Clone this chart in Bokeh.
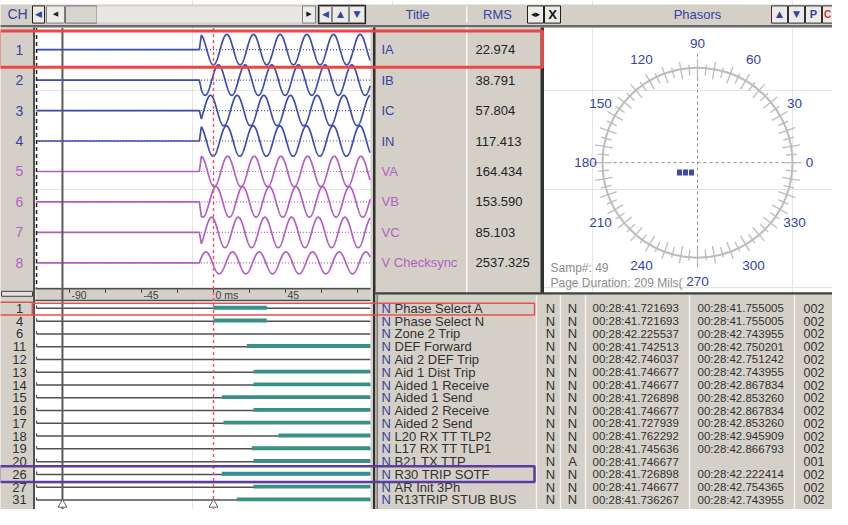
import numpy as np
from bokeh.plotting import figure
from bokeh.models import Range1d
from bokeh.core.properties import value
from bokeh.embed import file_html
from bokeh.resources import INLINE

# ------------------------------------------------------------------ data
analog_ch = ["1", "2", "3", "4", "5", "6", "7", "8"]
analog_names = ["IA", "IB", "IC", "IN", "VA", "VB", "VC", "V Checksync"]
analog_rms = ["22.974", "38.791", "57.804", "117.413", "164.434", "153.590", "85.103", "2537.325"]
analog_kind = ["I", "I", "I", "I", "V", "V", "V", "V"]
analog_amp = [0.5, 0.5, 0.5, 0.5, 0.5, 0.5, 0.5, 0.36]          # display amplitude (row units)
analog_peak_ms = [8.3, 3.1, -1.9, 8.1, 8.8, 1.6, -1.2, 11.9]     # time of a positive peak
fault_ms = -7.6
freq_hz = 60.0
view_start_ms = -111.0
view_end_ms = 98.0
cursor_ms = -94.4

time_tick_ms = [-90, -67.5, -45, -22.5, 0, 22.5, 45, 67.5, 90]
time_label_ms = [-90, -45, 0, 45]
time_labels = ["-90", "-45", "0 ms", "45"]

dig_ch = ["1", "4", "6", "11", "12", "13", "14", "15", "16", "17", "18", "19", "20", "26", "27", "31"]
dig_names = ["Phase Select A", "Phase Select N", "Zone 2 Trip", "DEF Forward", "Aid 2 DEF Trip",
             "Aid 1 Dist Trip", "Aided 1 Receive", "Aided 1 Send", "Aided 2 Receive", "Aided 2 Send",
             "L20 RX TT TLP2", "L17 RX TT TLP1", "B21 TX TTP", "R30 TRIP SOTF", "AR Init 3Ph",
             "R13TRIP STUB BUS"]
dig_s1 = ["N"] * 16
dig_s2 = ["N", "N", "N", "N", "N", "N", "N", "N", "N", "N", "N", "N", "A", "N", "N", "N"]
dig_on = ["00:28:41.721693", "00:28:41.721693", "00:28:42.225537", "00:28:41.742513",
          "00:28:42.746037", "00:28:41.746677", "00:28:41.746677", "00:28:41.726898",
          "00:28:41.746677", "00:28:41.727939", "00:28:41.762292", "00:28:41.745636",
          "00:28:41.746677", "00:28:41.726898", "00:28:41.746677", "00:28:41.736267"]
dig_off = ["00:28:41.755005", "00:28:41.755005", "00:28:42.743955", "00:28:42.750201",
           "00:28:42.751242", "00:28:42.743955", "00:28:42.867834", "00:28:42.853260",
           "00:28:42.867834", "00:28:42.853260", "00:28:42.945909", "00:28:42.866793",
           "", "00:28:42.222414", "00:28:42.754365", "00:28:42.743955"]
dig_cnt = ["002"] * 12 + ["001"] + ["002"] * 3
trigger_time = "00:28:41.721693"

phasor_label_deg = [0, 30, 60, 90, 120, 150, 180, 210, 240, 270, 300, 330]
phasor_tick_step = 5
samp_text = "Samp#: 49"
dur_text = "Page Duration: 209 Mils("

# ------------------------------------------------------------------ style
GRAY = "#d4d0c8"
BLUE_T = "#3443a4"
BLUE_W = "#3b4cb0"
PURPLE = "#b25fc2"
TEAL = "#3a8f88"
F = "Liberation Sans"
A = "DejaVu Sans"

X0, X1, Y0, Y1 = 8, 840, 8, 526
p = figure(width=832, height=509, x_range=Range1d(X0, X1), y_range=Range1d(Y1, Y0),
           output_backend="svg", toolbar_location=None, min_border=0,
           x_axis_location=None, y_axis_location=None,
           background_fill_color="white", border_fill_color="white")
p.outline_line_color = None
T0, PXMS = 221.0, 1.6
WROW0, WSTEP = 58.0, 31.0
DROW0, DSTEP = 321.3, 13.0
p.extra_x_ranges = {"t": Range1d((X0 - T0) / PXMS, (X1 - T0) / PXMS)}
p.extra_y_ranges = {"w": Range1d((Y1 - WROW0) / WSTEP, (Y0 - WROW0) / WSTEP),
                    "d": Range1d((Y1 - DROW0) / DSTEP, (Y0 - DROW0) / DSTEP)}


def box(l, r, t, b, fill=None, line=None, lw=1.0):
    p.quad(left=[l], right=[r], top=[t], bottom=[b], fill_color=fill,
           line_color=line, line_width=lw)


def txt(x, y, s, color, size="13px", align="left", font=F, style="normal",
        xr="default", yr="default", xoff=0):
    p.text(x=x, y=y, text=s, text_color=color, text_font=value(font),
           text_font_size=size, text_align=align, text_baseline="middle",
           text_font_style=style, x_range_name=xr, y_range_name=yr, x_offset=xoff)


# ------------------------------------------------------------------ panels
box(0, 848, 12, 33, GRAY)
box(0, 848, 33, 35.5, "#6a6a6a")
box(7, 41, 35.5, 530, GRAY)
box(40.5, 42.5, 35.5, 530, "#505050")
box(378, 551, 35.5, 306, GRAY)
box(378, 383, 306, 530, GRAY)
box(380.5, 383, 35.5, 530, "#303030")
box(473.5, 475, 35.5, 305, "#f8f8f8")
box(548, 551.5, 35.5, 306, "#303030")
box(383, 848, 305, 307.5, "#404040")
box(383, 848, 307.5, 530, GRAY)
box(384, 385.5, 307.5, 530, "#7a7a7a")
box(43, 378, 301, 313, GRAY)
box(43, 378, 300.5, 302, "#505050")
box(41, 378, 312.5, 314, "#505050")
box(9, 40, 304, 309, "#e4e1dc", "#404040", 1)
for xs in [544, 568, 593, 697, 802]:
    box(xs - 0.7, xs + 0.7, 308, 530, "#f4f4f4")

# header widgets
box(40, 52, 13.5, 31, "#ecebe7", "#202020", 1)
box(54, 72, 13.5, 31, "#ecebe7", "#808080", 1)
box(73, 104, 13.5, 31, "#d8d4ce", "#707070", 1)
box(104, 310, 14, 30.5, "#e9e7e3")
box(310, 323, 13.5, 31, "#ecebe7", "#808080", 1)
box(326, 373, 13, 31.5, None, "#202020", 1.2)
for a, b in [(327, 339), (340, 356), (357, 372)]:
    box(a, b, 14, 30.5, "#ecebe7", "#8a8a8a", 1)
box(473.5, 475, 14, 31, "#f4f4f4")
box(535, 551, 13.5, 31, "#ecebe7", "#202020", 1)
box(552, 568, 13.5, 31, "#ecebe7", "#202020", 1)
for a, b in [(779, 795), (796, 812), (813, 829), (830, 846)]:
    box(a, b, 13.5, 31, "#ecebe7", "#303030", 1)

txt([25], [22], ["CH"], BLUE_T, "14px", "center")
txt([46], [22], ["◀"], BLUE_T, "9px", "center", A)
txt([63], [22], ["◀"], "#202020", "7px", "center", A)
txt([316.5], [22], ["▶"], "#202020", "7px", "center", A)
txt([333], [22], ["◀"], BLUE_T, "9px", "center", A)
txt([348], [22], ["▲"], BLUE_T, "9px", "center", A)
txt([364.5], [22], ["▼"], BLUE_T, "9px", "center", A)
txt([425], [22], ["Title"], BLUE_T, "13px", "center")
txt([505], [22], ["RMS"], BLUE_T, "13px", "center")
txt([543], [22], ["◂▸"], "#101010", "9px", "center", A)
txt([560], [22], ["X"], "#101010", "13px", "center", F, "bold")
txt([705], [22], ["Phasors"], BLUE_T, "13px", "center")
txt([787], [22], ["▲"], BLUE_T, "9px", "center", A)
txt([804], [22], ["▼"], BLUE_T, "9px", "center", A)
txt([821], [22], ["P"], BLUE_T, "11px", "center", F, "bold")
txt([835], [22], ["C"], "#d03030", "10px", "center", F, "bold")

# ------------------------------------------------------------------ analog waveforms
rows = list(range(len(analog_names)))
for i in rows:
    col = BLUE_W if analog_kind[i] == "I" else PURPLE
    p.segment(x0=[view_start_ms], x1=[view_end_ms], y0=[i], y1=[i], line_color=col,
              line_width=1.2, line_dash="1 2", x_range_name="t", y_range_name="w")
    t_pre = np.arange(view_start_ms + 0.4, fault_ms - 1.0, 0.25)
    t_post = np.arange(fault_ms, view_end_ms, 0.1)
    y_pre = np.full_like(t_pre, float(i))
    y_post = i - analog_amp[i] * np.cos(2 * np.pi * freq_hz * (t_post - analog_peak_ms[i]) / 1000.0)
    p.line(np.concatenate([t_pre, t_post]), np.concatenate([y_pre, y_post]), line_color=col,
           line_width=1.7, x_range_name="t", y_range_name="w")

txt([27] * 8, rows, analog_ch, [BLUE_T] * 4 + [PURPLE] * 4, "14px", "center", yr="w")
txt([389] * 8, rows, analog_names, [BLUE_T] * 4 + [PURPLE] * 4, "13px", "left", yr="w")
txt([483] * 8, rows, analog_rms, ["#222222"] * 8, "13px", "left", yr="w")

# ------------------------------------------------------------------ time axis strip
p.segment(x0=time_tick_ms, x1=time_tick_ms, y0=[302] * len(time_tick_ms),
          y1=[305.5] * len(time_tick_ms), line_color="#404040", line_width=1, x_range_name="t")
txt(time_label_ms, [308] * 4, time_labels, "#404040", "10.5px", "left", xr="t", xoff=2)

# ------------------------------------------------------------------ digital channels
def secs(s):
    h, m, rest = s.split(":")
    return int(h) * 3600 + int(m) * 60 + float(rest)


k = list(range(len(dig_ch)))
p.segment(x0=[view_start_ms + 0.4] * 16, x1=[view_end_ms] * 16, y0=k, y1=k,
          line_color="#505050", line_width=1.5, x_range_name="t", y_range_name="d")
p.segment(x0=[view_start_ms + 0.4] * 16, x1=[view_start_ms + 0.4] * 16,
          y0=[v - 0.22 for v in k], y1=k, line_color="#505050", line_width=1.2,
          x_range_name="t", y_range_name="d")
trig = secs(trigger_time)
bl, br, by = [], [], []
for j in k:
    on = (secs(dig_on[j]) - trig) * 1000.0
    off = (secs(dig_off[j]) - trig) * 1000.0 if dig_off[j] else 1e9
    if on < view_end_ms:
        bl.append(max(on, view_start_ms))
        br.append(min(off, view_end_ms))
        by.append(j - 0.05)
p.hbar(y=by, left=bl, right=br, height=0.3, fill_color=TEAL, line_color=None,
       x_range_name="t", y_range_name="d")

DS = "13px"
txt([27] * 16, k, dig_ch, "#303030", "13px", "center", yr="d")
txt([389] * 16, k, ["N"] * 16, BLUE_T, DS, "left", yr="d")
txt([402] * 16, k, dig_names, "#303030", DS, "left", yr="d")
txt([558] * 16, k, dig_s1, "#303030", DS, "center", yr="d")
txt([580] * 16, k, dig_s2, "#303030", DS, "center", yr="d")
txt([600] * 16, k, dig_on, "#303030", "11.5px", "left", yr="d")
txt([705] * 16, k, dig_off, "#303030", "11.5px", "left", yr="d")
txt([811] * 16, k, dig_cnt, "#303030", "12.5px", "left", yr="d")

# ------------------------------------------------------------------ cursors
p.segment(x0=[cursor_ms], x1=[cursor_ms], y0=[36], y1=[530], line_color="#5a5a5a",
          line_width=2, x_range_name="t")
p.segment(x0=[0], x1=[0], y0=[36], y1=[530], line_color="#f05a5a", line_width=1.5,
          line_dash="3 3", x_range_name="t")
p.segment(x0=[view_start_ms + 0.4], x1=[view_start_ms + 0.4], y0=[36], y1=[300],
          line_color="#202020", line_width=1.5, line_dash="4 3", x_range_name="t")
p.scatter(x=[cursor_ms, 0], y=[521, 521], marker="triangle", size=9, fill_color="white",
          line_color="#606060", x_range_name="t")

# ------------------------------------------------------------------ phasor diagram
CX, CY, R = 705.0, 173.0, 95.0
p.segment(x0=[CX], x1=[CX], y0=[62], y1=[282], line_color="#909090", line_dash="3 3", line_width=1)
p.segment(x0=[603], x1=[808], y0=[CY], y1=[CY], line_color="#909090", line_dash="3 3", line_width=1)
p.circle(x=[CX], y=[CY], radius=R, fill_color=None, line_color="#bcbcbc", line_width=2)
tick_deg = np.arange(0, 360, phasor_tick_step)
rad = np.deg2rad(tick_deg)
major = (tick_deg % 10) == 0
r_in = np.where(major, 86.0, 89.0)
r_out = np.where(major, 104.0, 100.0)
p.segment(x0=CX + r_in * np.cos(rad), x1=CX + r_out * np.cos(rad),
          y0=CY - r_in * np.sin(rad), y1=CY - r_out * np.sin(rad),
          line_color="#bcbcbc", line_width=1.3)
lrad = np.deg2rad(phasor_label_deg)
txt(list(CX + 112 * np.cos(lrad)), list(CY - 121 * np.sin(lrad)),
    [str(d) for d in phasor_label_deg], BLUE_T, "13.5px", "center")
p.rect(x=[687, 693, 699], y=[183, 183, 183], width=5, height=6, fill_color=BLUE_W,
       line_color=None)
txt([558], [280], [samp_text], "#8c8c8c", "12px", "left")
txt([558], [296], [dur_text], "#8c8c8c", "12px", "left")

# ------------------------------------------------------------------ highlight boxes
box(7, 550, 39, 76, None, "#ee4444", 3)
box(7, 40, 315, 328, None, "#e85050", 1.5)
box(40, 542, 316, 328, None, "#e85050", 1.5)
box(7, 542, 482, 498, None, "#5a3d9e", 2.5)

open("out.html", "w").write(file_html(p, INLINE))
